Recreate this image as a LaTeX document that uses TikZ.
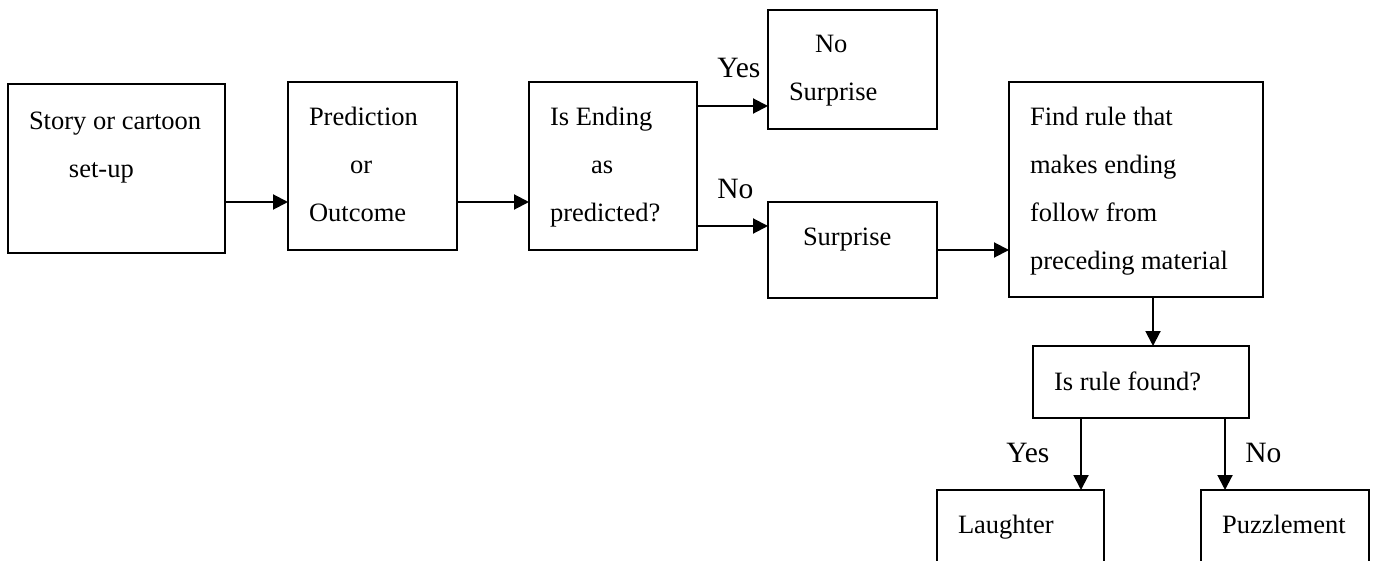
\documentclass[tikz,border=0pt]{standalone}
\usepackage{fontspec}
\setmainfont{Liberation Serif}
\usetikzlibrary{arrows.meta,positioning,calc}

\newcommand{\boxfont}{\fontsize{13.25pt}{23.85pt}\selectfont\hyphenpenalty=10000}
\newcommand{\answerfont}{\fontsize{14.75pt}{17pt}\selectfont}

\tikzset{
  stage/.style  = {draw, line width=1pt, rectangle, anchor=north west, align=flush left,
                   inner xsep=10.5pt, inner ysep=0pt, outer sep=0pt, font=\boxfont,
                   execute at begin node={\spaceskip=0pt\xspaceskip=0pt}},
  answer/.style = {anchor=base west, inner sep=0pt, font=\answerfont},
  flow/.style   = {->, line width=1pt}
}

\begin{document}
\begin{tikzpicture}[x=0.5pt, y=-0.5pt,
    >={Triangle[length=7.5pt,width=7.5pt]}]
  \useasboundingbox (0,0) rectangle (1375,561);
  \clip (0,0) rectangle (1375,561);

% first row: set-up, prediction, question
  \node[stage, text width=87.5pt, text height=23pt, text depth=61.5pt] (setup) at (8,84)
    {Story or cartoon\\\hspace*{20pt}set-up};
  \node[stage, text width=63.5pt, text height=22pt, text depth=62pt] (pred) at (288,82)
    {Prediction\\\hspace*{20.5pt}or\\Outcome};
  \node[stage, text width=63pt, text height=22pt, text depth=62pt] (ending) at (529,82)
    {Is Ending\\\hspace*{20.5pt}as\\predicted?};

% the two outcomes of the question
  \node[stage, text width=63.5pt, text height=21.5pt, text depth=38pt] (nosurp) at (768,10)
    {\hspace*{13pt}No\\Surprise};
  \node[stage, inner xsep=17.5pt, text width=49.5pt, text height=22pt, text depth=26pt] (surp) at (768,202)
    {Surprise};

% looking for the rule
  \node[stage, text width=106pt, text height=22pt, text depth=85.5pt] (findrule) at (1009,82)
    {Find rule that\\makes ending\\follow from\\preceding material};
  \node[stage, text width=87pt, text height=22pt, text depth=14pt] (isrule) at (1033,346)
    {Is rule found?};
  \node[stage, text width=62.5pt, text height=21.5pt, text depth=60pt] (laugh) at (937,490)
    {Laughter};
  \node[stage, text width=63pt, text height=21.5pt, text depth=60pt] (puzzle) at (1201,490)
    {Puzzlement};

% answers
  \node[answer] (yes1) at (717,78) {Yes};
  \node[answer] (no1) at (717,199) {No};
  \node[answer] (yes2) at (1006,462) {Yes};
  \node[answer] (no2) at (1245,462) {No};

% arrows
  \draw[flow] ([yshift=-16.75pt]setup.east) -- ([yshift=-18pt]pred.west);
  \draw[flow] ([yshift=-18pt]pred.east) -- ([yshift=-18pt]ending.west);
  \draw[flow] ([yshift=30pt]ending.east) -- ([yshift=-18.25pt]nosurp.west);
  \draw[flow] ([yshift=-30pt]ending.east) -- ([yshift=12pt]surp.west);
  \draw[flow] (surp.east) -- (surp.east -| findrule.west);
  \draw[flow] ([xshift=8.5pt]findrule.south) -- ([xshift=6pt]isrule.north);
  \draw[flow] ([xshift=-30pt]isrule.south) -- ([xshift=30.25pt]laugh.north);
  \draw[flow] ([xshift=42pt]isrule.south) -- ([xshift=-30pt]puzzle.north);
\end{tikzpicture}
\end{document}
